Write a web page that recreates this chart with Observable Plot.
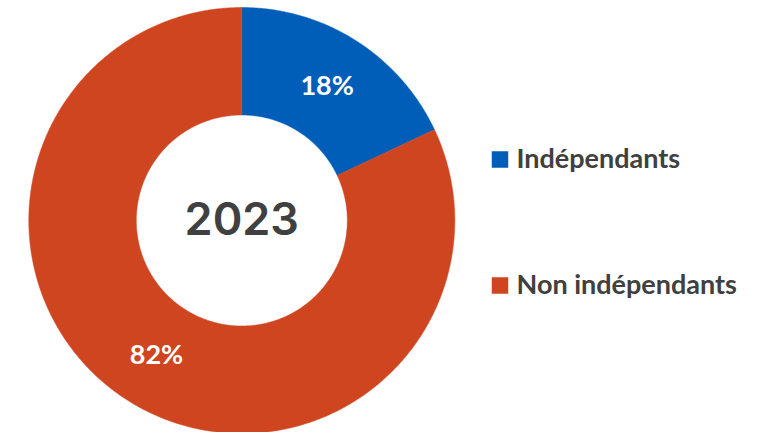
<!DOCTYPE html>
<html>
<head>
<meta charset="utf-8">
<script src="https://cdn.jsdelivr.net/npm/d3@7"></script>
<script src="https://cdn.jsdelivr.net/npm/@observablehq/plot@0.6"></script>
<style>
  html, body { margin: 0; padding: 0; background: #fff; }
  #chart { width: 760px; height: 432px; }
</style>
</head>
<body>
<div id="chart"></div>
<script>
// ---- data ----
const categories = ["Indépendants", "Non indépendants"];
const values = [18, 82];
const labels = ["18%", "82%"];
const colors = ["#005EB8", "#CF4520"];
const centerLabel = "2023";

// ---- layout ----
const W = 760, H = 432;
const cx = 241.3, cy = 220, R = 213; // pixel geometry of the donut
const innerRatio = 105.5 / 213;
const toX = px => (px - cx) / R;
const toY = py => (cy - py) / R;

const pie = d3.pie().sort(null).value(d => d.value)(
  categories.map((c, i) => ({category: c, value: values[i], label: labels[i]}))
);

// polygons for each slice, in unit coordinates (computed from the values)
const poly = [];
for (const s of pie) {
  const n = Math.max(2, Math.ceil((s.endAngle - s.startAngle) / (Math.PI / 360)));
  for (let k = 0; k <= n; k++) {
    const a = s.startAngle + (s.endAngle - s.startAngle) * k / n;
    poly.push({category: s.data.category, x: Math.sin(a), y: Math.cos(a)});
  }
  for (let k = n; k >= 0; k--) {
    const a = s.startAngle + (s.endAngle - s.startAngle) * k / n;
    poly.push({category: s.data.category, x: innerRatio * Math.sin(a), y: innerRatio * Math.cos(a)});
  }
}
const rMid = (1 + innerRatio) / 2;
const sliceLabels = pie.map(s => {
  const a = (s.startAngle + s.endAngle) / 2;
  return {label: s.data.label, x: rMid * Math.sin(a), y: rMid * Math.cos(a)};
});

const legendY = [159, 285];
const legend = categories.map((c, i) => ({category: c, x: toX(499.5), tx: toX(516), y: toY(legendY[i])}));

const chart = Plot.plot({
  width: W, height: H,
  margin: 0,
  x: {domain: [toX(0), toX(W)], axis: null},
  y: {domain: [toY(H), toY(0)], axis: null},
  color: {domain: categories, range: colors},
  style: {background: "transparent"},
  marks: [
    Plot.line(poly, {x: "x", y: "y", z: "category", fill: "category", stroke: "category", strokeWidth: 0.5, curve: "linear-closed"}),
    Plot.text(sliceLabels, {x: "x", y: "y", text: "label", fill: "white", fontSize: 27, fontWeight: "bold", fontFamily: "Lato"}),
    Plot.text([centerLabel], {x: 0, y: 0, text: d => d, fill: "#404040", fontSize: 45, fontWeight: 600, fontFamily: "Inter"}),
    Plot.dot(legend, {x: "x", y: "y", fill: "category", symbol: "square", r: 9.3}),
    Plot.text(legend, {x: "tx", y: "y", text: "category", textAnchor: "start", fill: "#404040", fontSize: 27, fontWeight: "bold", fontFamily: "Lato"})
  ]
});
document.getElementById("chart").appendChild(chart);
</script>
</body>
</html>
